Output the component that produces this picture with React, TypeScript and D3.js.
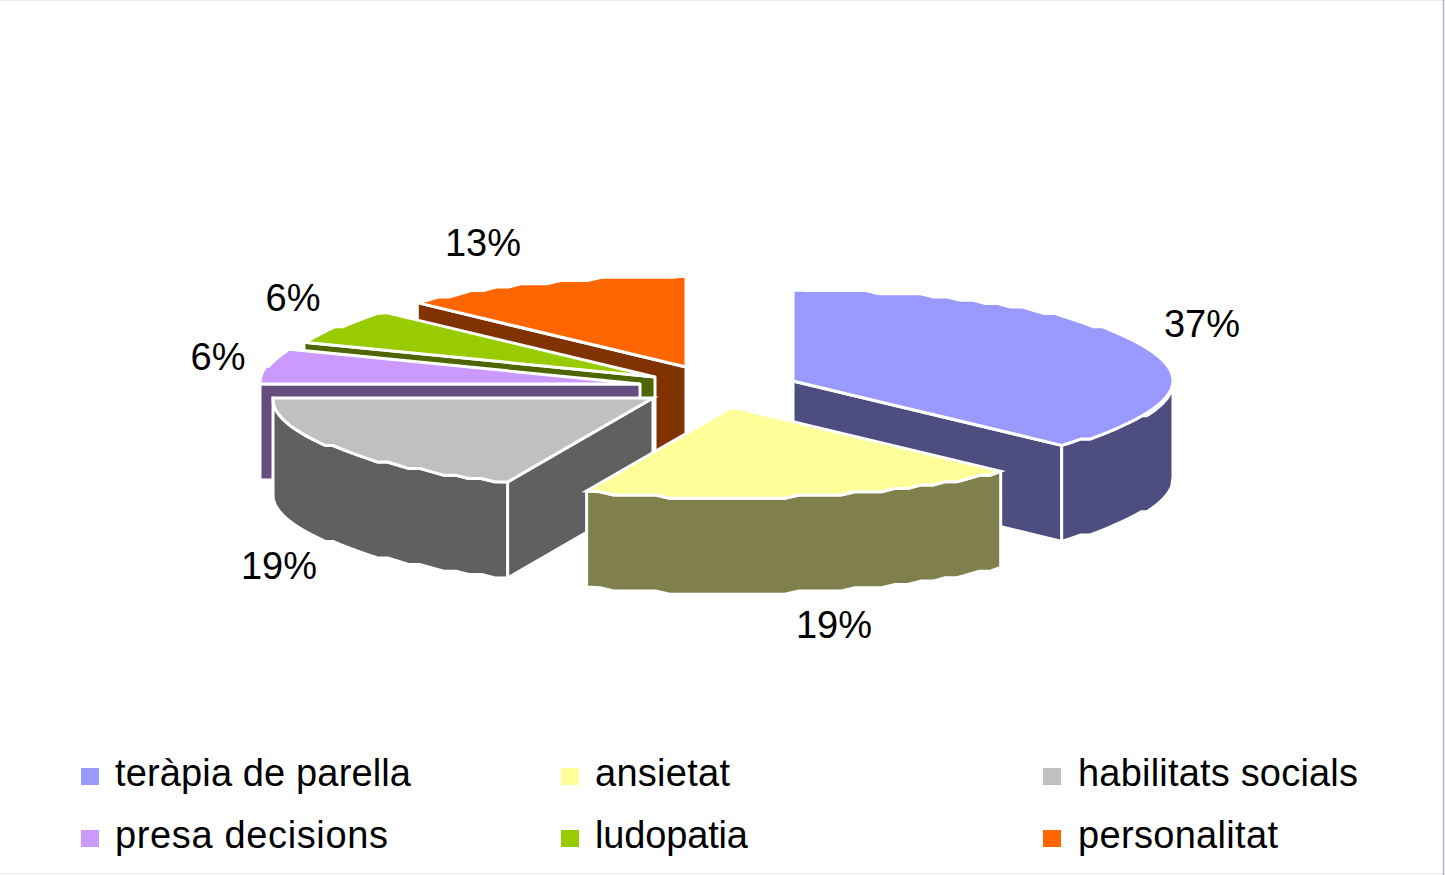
import React from "react";
import * as d3 from "d3";

const categories = ["teràpia de parella", "ansietat", "habilitats socials", "presa decisions", "ludopatia", "personalitat"];
const values = [6, 3, 3, 1, 1, 2];
const valueLabels = ["37%", "19%", "19%", "6%", "6%", "13%"];
const topColors = ["#9999ff", "#ffff99", "#c0c0c0", "#cc99ff", "#99cc00", "#ff6600"];
const sideColors = ["#4d4d80", "#80804d", "#606060", "#664d80", "#4d6600", "#803300"];

// layout of the exploded pie (apex of every slice, in drawing order helpers)
const apexX = [793, 732, 653, 640, 655, 686];
const apexY = [381, 407, 398, 384, 377, 367];
const labelX = [1202, 834, 279, 218, 293, 483];
const labelY = [337, 638, 579, 370, 311, 256];
const paintOrder = [5, 4, 3, 2, 0, 1];
const legendRows = [0, 0, 0, 1, 1, 1];
const legendCols = [0, 1, 2, 0, 1, 2];
const legendMarkX = [81, 561, 1043];
const legendTextX = [115, 595, 1078];
const legendBaseY = [786, 848];
const legendWidths = [296, 135, 280, 273, 153, 200];

const W = 1445;
const H = 875;
const RX = 380;
const RY = 91;
const DEPTH = 96;
const STEP = 3.3;
const FONT = "'Liberation Sans', Arial, sans-serif";

const pieGen = d3.pie<number>().sort(null).startAngle(0).endAngle(2 * Math.PI);
const lineGen = d3.line<[number, number]>();
const closed = (pts: [number, number][]) => lineGen(pts) + "Z";

function rim(cx: number, cy: number, a0: number, a1: number): [number, number][] {
  const n = Math.max(2, Math.ceil(((a1 - a0) * 180) / Math.PI / 2.2));
  const ang = d3.scaleLinear().domain([0, n]).range([a0, a1]);
  return d3.range(n + 1).map((i) => {
    const a = ang(i);
    const x = cx + RX * Math.sin(a);
    const y = cy - RY * Math.cos(a);
    const isEnd = i === 0 || i === n;
    return [x, isEnd ? y : Math.round(y / STEP) * STEP] as [number, number];
  });
}

function Slice({ i, arc }: { i: number; arc: d3.PieArcDatum<number> }) {
  const cx = apexX[i];
  const cy = apexY[i];
  const { startAngle: a0, endAngle: a1 } = arc;
  const top = rim(cx, cy, a0, a1);
  const down = (p: [number, number]): [number, number] => [p[0], p[1] + DEPTH];
  const faces: [number, number][][] = [];
  const apex: [number, number] = [cx, cy];

  if (a0 > Math.PI && a0 < 2 * Math.PI) {
    faces.push([apex, top[0], down(top[0]), down(apex)]);
  }
  if (a1 < Math.PI) {
    const last = top[top.length - 1];
    faces.push([apex, last, down(last), down(apex)]);
  }
  const f0 = Math.max(a0, Math.PI / 2);
  const f1 = Math.min(a1, (3 * Math.PI) / 2);
  if (f1 > f0) {
    const front = rim(cx, cy, f0, f1);
    faces.push([...front, ...front.map(down).reverse()]);
  }
  return (
    <g>
      {faces.map((f, k) => (
        <path key={k} d={closed(f)} fill={sideColors[i]} stroke="#ffffff" strokeWidth={3} strokeLinejoin="round" />
      ))}
      <path d={closed([apex, ...top])} fill={topColors[i]} stroke="#ffffff" strokeWidth={3} strokeLinejoin="miter" />
    </g>
  );
}

export default function App() {
  const arcs = pieGen(values);
  return (
    <svg
      width={W}
      height={H}
      viewBox={`0 0 ${W} ${H}`}
      style={{ position: "absolute", left: 0, top: 0, display: "block", background: "#ffffff" }}
    >
      <line x1={0} x2={W} y1={0.5} y2={0.5} stroke="#eeeeee" />
      <line x1={0} x2={W} y1={873.5} y2={873.5} stroke="#eeeeee" />
      <line x1={1443.5} x2={1443.5} y1={0} y2={H} stroke="#b4b4d8" strokeWidth={1.5} />
      {paintOrder.map((i) => (
        <Slice key={i} i={i} arc={arcs[i]} />
      ))}
      {valueLabels.map((t, i) => (
        <text key={i} x={labelX[i]} y={labelY[i]} textAnchor="middle" fontFamily={FONT} fontSize={38} fill="#000">
          {t}
        </text>
      ))}
      {categories.map((c, i) => (
        <g key={c}>
          <rect
            x={legendMarkX[legendCols[i]]}
            y={legendBaseY[legendRows[i]] - 18}
            width={18}
            height={17}
            fill={topColors[i]}
          />
          <text
            x={legendTextX[legendCols[i]]}
            y={legendBaseY[legendRows[i]]}
            fontFamily={FONT}
            fontSize={38}
            textLength={legendWidths[i]}
            lengthAdjust="spacing"
            fill="#000"
          >
            {c}
          </text>
        </g>
      ))}
    </svg>
  );
}
